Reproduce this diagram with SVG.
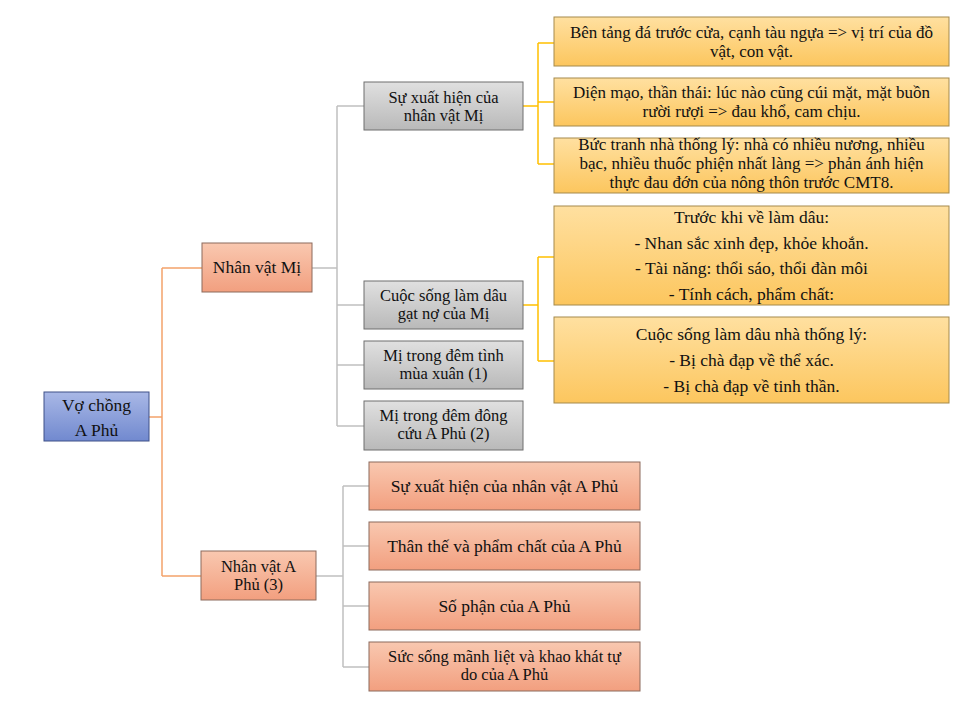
<svg xmlns="http://www.w3.org/2000/svg" width="976" height="714" viewBox="0 0 976 714">
<defs>
<linearGradient id="gBlue" x1="0" y1="0" x2="0" y2="1"><stop offset="0" stop-color="#a9b8e6"/><stop offset="1" stop-color="#7189cf"/></linearGradient>
<linearGradient id="gOr" x1="0" y1="0" x2="0" y2="1"><stop offset="0" stop-color="#f9c8b0"/><stop offset="1" stop-color="#f29f7f"/></linearGradient>
<linearGradient id="gGr" x1="0" y1="0" x2="0" y2="1"><stop offset="0" stop-color="#e0e0e0"/><stop offset="1" stop-color="#b9b9b9"/></linearGradient>
<linearGradient id="gYe" x1="0" y1="0" x2="0" y2="1"><stop offset="0" stop-color="#ffe0a0"/><stop offset="1" stop-color="#fcc65e"/></linearGradient>
</defs>
<style>
text{fill:#111;text-anchor:middle}
.blue{fill:url(#gBlue);stroke:#3f5188;stroke-width:1}
.or{fill:url(#gOr);stroke:#8c6a5c;stroke-width:1}
.gr{fill:url(#gGr);stroke:#6f6f6f;stroke-width:1}
.ye{fill:url(#gYe);stroke:#a58a4c;stroke-width:1}
.cOr{fill:none;stroke:#f4a26b;stroke-width:1.5}
.cGr{fill:none;stroke:#c0c0c0;stroke-width:1.5}
.cYe{fill:none;stroke:#ffc000;stroke-width:1.5}
</style>
<rect width="976" height="714" fill="#ffffff"/>
<g id="connectors">
<path class="cOr" d="M149 417H162M162 268V576M162 268H202M162 576H201"/>
<path class="cGr" d="M312 268H337M337 106V426M337 106H364M337 305H364M337 365H364M337 426H364"/>
<path class="cGr" d="M316 576H343M343 486V667M343 486H369M343 546H369M343 606H369M343 667H369"/>
<path class="cYe" d="M523 106H538M538 43V164M538 43H554M538 102H554M538 164H554"/>
<path class="cYe" d="M523 305H538M538 257V361M538 257H554M538 361H554"/>
</g>
<g id="root"><rect class="blue" x="44" y="392" width="105" height="49"/><text x="96.5" y="411" style="font-family:'Liberation Serif',serif;font-size:17.5px">Vợ chồng</text><text x="96.5" y="436" style="font-family:'Liberation Serif',serif;font-size:17.5px">A Phủ</text></g>
<g id="mi"><rect class="or" x="202" y="243" width="110" height="49"/><text x="257" y="273" style="font-family:'Liberation Serif',serif;font-size:17.5px">Nhân vật Mị</text></g>
<g id="mi1"><rect class="gr" x="364" y="82" width="159" height="48"/><text x="443.5" y="102.5" style="font-family:'Liberation Serif',serif;font-size:16.5px">Sự xuất hiện của</text><text x="443.5" y="121" style="font-family:'Liberation Serif',serif;font-size:16.5px">nhân vật Mị</text></g>
<g id="mi2"><rect class="gr" x="364" y="281" width="159" height="48"/><text x="443.5" y="300.5" style="font-family:'Liberation Serif',serif;font-size:16.5px">Cuộc sống làm dâu</text><text x="443.5" y="319" style="font-family:'Liberation Serif',serif;font-size:16.5px">gạt nợ của Mị</text></g>
<g id="mi3"><rect class="gr" x="364" y="341" width="159" height="48"/><text x="443.5" y="360.5" style="font-family:'Liberation Serif',serif;font-size:16.5px">Mị trong đêm tình</text><text x="443.5" y="379" style="font-family:'Liberation Serif',serif;font-size:16.5px">mùa xuân (1)</text></g>
<g id="mi4"><rect class="gr" x="364" y="401" width="159" height="49"/><text x="443.5" y="420.5" style="font-family:'Liberation Serif',serif;font-size:16.5px">Mị trong đêm đông</text><text x="443.5" y="439" style="font-family:'Liberation Serif',serif;font-size:16.5px">cứu A Phủ (2)</text></g>
<g id="y1"><rect class="ye" x="554" y="17" width="395" height="49"/><text x="751.5" y="38" style="font-family:'Liberation Serif',serif;font-size:17px">Bên tảng đá trước cửa, cạnh tàu ngựa =&gt; vị trí của đồ</text><text x="751.5" y="57" style="font-family:'Liberation Serif',serif;font-size:17px">vật, con vật.</text></g>
<g id="y2"><rect class="ye" x="554" y="78" width="395" height="48"/><text x="751.5" y="98" style="font-family:'Liberation Serif',serif;font-size:17px">Diện mạo, thần thái: lúc nào cũng cúi mặt, mặt buồn</text><text x="751.5" y="117" style="font-family:'Liberation Serif',serif;font-size:17px">rười rượi =&gt; đau khổ, cam chịu.</text></g>
<g id="y3"><rect class="ye" x="554" y="138" width="395" height="55"/><text x="751.5" y="150" style="font-family:'Liberation Serif',serif;font-size:17px">Bức tranh nhà thống lý: nhà có nhiều nương, nhiều</text><text x="751.5" y="169" style="font-family:'Liberation Serif',serif;font-size:17px">bạc, nhiều thuốc phiện nhất làng =&gt; phản ánh hiện</text><text x="751.5" y="188" style="font-family:'Liberation Serif',serif;font-size:17px">thực đau đớn của nông thôn trước CMT8.</text></g>
<g id="yA"><rect class="ye" x="554" y="206" width="395" height="99"/><text x="751.5" y="223" style="font-family:'Liberation Serif',serif;font-size:17.5px">Trước khi về làm dâu:</text><text x="751.5" y="249" style="font-family:'Liberation Serif',serif;font-size:17.5px">- Nhan sắc xinh đẹp, khỏe khoắn.</text><text x="751.5" y="274" style="font-family:'Liberation Serif',serif;font-size:17.5px">- Tài năng: thổi sáo, thổi đàn môi</text><text x="751.5" y="300" style="font-family:'Liberation Serif',serif;font-size:17.5px">- Tính cách, phẩm chất:</text></g>
<g id="yB"><rect class="ye" x="554" y="317" width="395" height="86"/><text x="751.5" y="340" style="font-family:'Liberation Serif',serif;font-size:17.5px">Cuộc sống làm dâu nhà thống lý:</text><text x="751.5" y="366" style="font-family:'Liberation Serif',serif;font-size:17.5px">- Bị chà đạp về thể xác.</text><text x="751.5" y="392" style="font-family:'Liberation Serif',serif;font-size:17.5px">- Bị chà đạp về tinh thần.</text></g>
<g id="aphu"><rect class="or" x="201" y="551" width="115" height="49"/><text x="258.5" y="571.5" style="font-family:'Liberation Serif',serif;font-size:16.5px">Nhân vật A</text><text x="258.5" y="590" style="font-family:'Liberation Serif',serif;font-size:16.5px">Phủ (3)</text></g>
<g id="ap1"><rect class="or" x="369" y="462" width="271" height="48"/><text x="504.5" y="492" style="font-family:'Liberation Serif',serif;font-size:17.5px">Sự xuất hiện của nhân vật A Phủ</text></g>
<g id="ap2"><rect class="or" x="369" y="522" width="271" height="48"/><text x="504.5" y="552" style="font-family:'Liberation Serif',serif;font-size:17.5px">Thân thế và phẩm chất của A Phủ</text></g>
<g id="ap3"><rect class="or" x="369" y="582" width="271" height="48"/><text x="504.5" y="612" style="font-family:'Liberation Serif',serif;font-size:17.5px">Số phận của A Phủ</text></g>
<g id="ap4"><rect class="or" x="369" y="642" width="271" height="49"/><text x="504.5" y="661.5" style="font-family:'Liberation Serif',serif;font-size:16.5px">Sức sống mãnh liệt và khao khát tự</text><text x="504.5" y="680" style="font-family:'Liberation Serif',serif;font-size:16.5px">do của A Phủ</text></g>
</svg>
